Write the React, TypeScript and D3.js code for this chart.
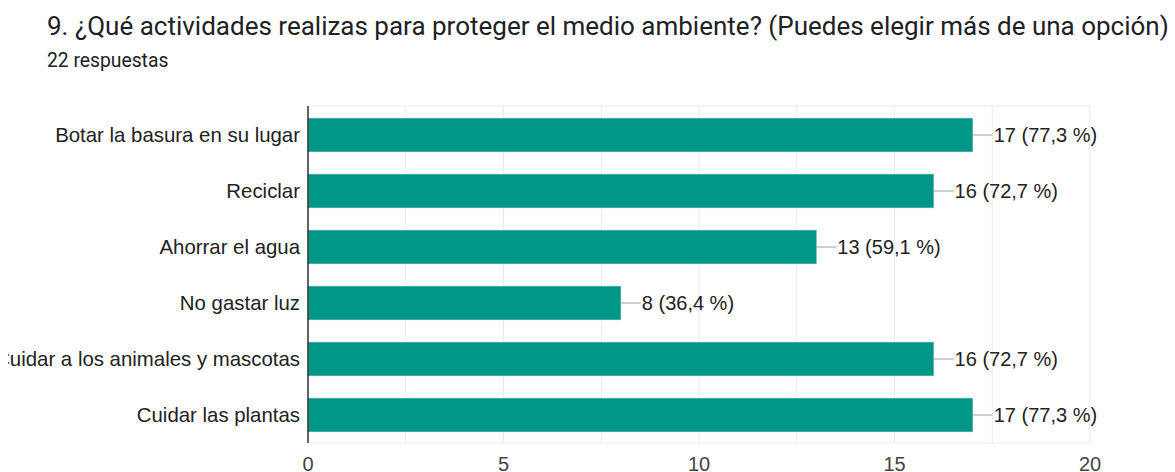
import React from "react";
import * as d3 from "d3";

const title = "9. ¿Qué actividades realizas para proteger el medio ambiente? (Puedes elegir más de una opción)";
const subtitle = "22 respuestas";
const categories = [
  "Botar la basura en su lugar",
  "Reciclar",
  "Ahorrar el agua",
  "No gastar luz",
  "Cuidar a los animales y mascotas",
  "Cuidar las plantas",
];
const counts = [17, 16, 13, 8, 16, 17];
const percents = ["77,3", "72,7", "59,1", "36,4", "72,7", "77,3"];
const tickValues = [0, 5, 10, 15, 20];
const gridValues = [0, 2.5, 5, 7.5, 10, 12.5, 15, 17.5, 20];

export default function App() {
  const W = 1175, H = 472;
  const x = d3.scaleLinear().domain([0, 20]).range([308, 1090]);
  const y = d3.scaleBand<string>().domain(categories).range([107, 443]).paddingInner(0.4).paddingOuter(0.2);
  const font = "'Liberation Sans', Arial, sans-serif";
  return (
    <svg width={W} height={H} style={{ position: "absolute", left: 0, top: 0 }}>
      <defs>
        <clipPath id="labelClip">
          <rect x={8} y={0} width={W} height={H} />
        </clipPath>
      </defs>
      <rect width={W} height={H} fill="#fff" />
      <text x={47} y={35} fontFamily="Roboto, sans-serif" fontSize={26} fill="#202124">{title}</text>
      <text x={47} y={67} fontFamily="Roboto, sans-serif" fontSize={19.3} fill="#202124">{subtitle}</text>
      {gridValues.map((g) => (
        <line key={g} x1={x(g)} x2={x(g)} y1={106} y2={443} stroke="#ebebeb" strokeWidth={1} />
      ))}
      <line x1={308} x2={1091} y1={106} y2={106} stroke="#ebebeb" />
      <line x1={308} x2={1091} y1={443} y2={443} stroke="#ebebeb" />
      {categories.map((c, i) => {
        const yy = y(c)!;
        const cy = yy + y.bandwidth() / 2;
        const xe = x(counts[i]);
        return (
          <g key={c}>
            <rect x={x(0)} y={yy} width={xe - x(0)} height={y.bandwidth()} fill="#009688" stroke="#4db6ac" strokeWidth={0.5} />
            <line x1={xe} x2={xe + 20} y1={cy} y2={cy} stroke="#9e9e9e" strokeWidth={1} />
            <text x={xe + 21} y={cy} dy="0.35em" fontFamily={font} fontSize={20} fill="#222">
              {`${counts[i]} (${percents[i]} %)`}
            </text>
            <text x={300} y={cy} dy="0.35em" textAnchor="end" fontFamily={font} fontSize={20.4} fill="#222" clipPath="url(#labelClip)">{c}</text>
          </g>
        );
      })}
      <line x1={308} x2={308} y1={106} y2={443} stroke="#333" strokeWidth={1.5} />
      {tickValues.map((t) => (
        <text key={t} x={x(t)} y={464} dy="0.35em" textAnchor="middle" fontFamily={font} fontSize={20} fill="#444">{t}</text>
      ))}
    </svg>
  );
}
